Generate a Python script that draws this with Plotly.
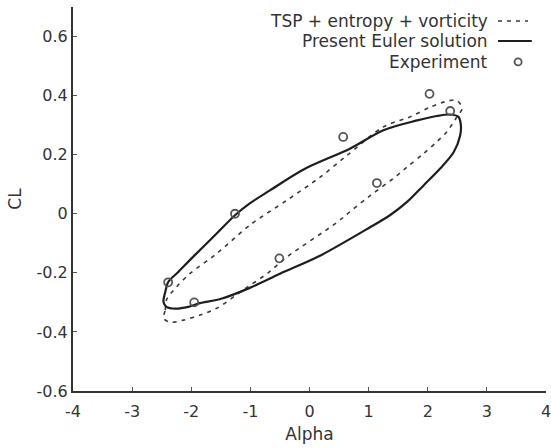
import plotly.graph_objects as go

# Present Euler solution (closed loop)
alpha_euler = [2.56, 2.52, 2.38, 2.15, 1.82, 1.25, 0.69, -0.10, -0.67, -1.01, -1.26, -1.60,
               -1.94, -2.22, -2.39, -2.44, -2.47, -2.42, -2.27, -2.05, -1.88, -1.48, -1.00,
               -0.50, 0.15, 1.03, 1.36, 1.65, 1.93, 2.21, 2.44, 2.55, 2.56]
cl_euler = [0.300, 0.328, 0.336, 0.331, 0.316, 0.283, 0.221, 0.150, 0.079, 0.035, -0.005, -0.073,
            -0.140, -0.197, -0.231, -0.265, -0.298, -0.315, -0.321, -0.315, -0.304, -0.287, -0.250,
            -0.203, -0.145, -0.045, -0.005, 0.040, 0.096, 0.153, 0.209, 0.267, 0.300]

# TSP + entropy + vorticity (closed loop)
alpha_tsp = [-2.47, -2.44, -2.42, -2.30, -2.02, -1.57, -1.00, -0.38, 0.18, 0.62, 1.25, 1.70,
             2.04, 2.27, 2.49, 2.58, 2.50, 2.32, 2.15, 1.93, 1.65, 1.42, 1.03, 0.69, 0.46,
             -0.38, -0.70, -1.10, -1.57, -1.85, -2.13, -2.36, -2.47]
cl_tsp = [-0.353, -0.326, -0.292, -0.259, -0.202, -0.135, -0.037, 0.046, 0.124, 0.195, 0.294, 0.328,
          0.361, 0.378, 0.384, 0.356, 0.330, 0.277, 0.243, 0.204, 0.158, 0.120, 0.062, 0.008, -0.030,
          -0.146, -0.200, -0.255, -0.320, -0.343, -0.360, -0.367, -0.353]

# Experiment
alpha_exp = [2.03, 2.38, 0.57, 1.14, -1.26, -0.51, -2.39, -1.95]
cl_exp = [0.406, 0.348, 0.260, 0.104, 0.000, -0.151, -0.232, -0.300]

x_ticks = [-4, -3, -2, -1, 0, 1, 2, 3, 4]
x_tick_text = ["-4", "-3", "-2", "-1", "0", "1", "2", "3", "4"]
y_ticks = [-0.6, -0.4, -0.2, 0, 0.2, 0.4, 0.6]
y_tick_text = ["-0.6", "-0.4", "-0.2", "0", "0.2", "0.4", "0.6"]

legend_labels = ["TSP + entropy + vorticity", "Present Euler solution", "Experiment"]

LINE = "#1e1e1e"
DASHC = "#3a3a3a"
MARK = "#555555"
TEXT = "#333333"
FONT = "DejaVu Sans"

fig = go.Figure()
fig.add_trace(go.Scatter(x=alpha_tsp, y=cl_tsp, mode="lines",
                         line=dict(color=DASHC, width=1.6, dash="4px,5px", shape="spline", smoothing=0.9),
                         showlegend=False))
fig.add_trace(go.Scatter(x=alpha_euler, y=cl_euler, mode="lines",
                         line=dict(color=LINE, width=2.2, shape="spline", smoothing=0.9),
                         showlegend=False))
fig.add_trace(go.Scatter(x=alpha_exp, y=cl_exp, mode="markers",
                         marker=dict(symbol="circle-open", size=8, color=MARK, line=dict(width=1.8)),
                         showlegend=False))

# Legend drawn manually (symbol on the right of the label, as in the original)
rows_y = [0.9635, 0.9115, 0.857]
text_x = 0.882
for lab, yy in zip(legend_labels, rows_y):
    fig.add_annotation(x=text_x, y=yy, xref="paper", yref="paper", text=lab, showarrow=False,
                       xanchor="right", yanchor="middle", font=dict(family=FONT, size=17, color=TEXT))
fig.add_shape(type="line", xref="paper", yref="paper", x0=0.8985, x1=0.962, y0=rows_y[0], y1=rows_y[0],
              line=dict(color=DASHC, width=1.6, dash="4px,5px"))
fig.add_shape(type="line", xref="paper", yref="paper", x0=0.8985, x1=0.970, y0=rows_y[1], y1=rows_y[1],
              line=dict(color=LINE, width=2.2))
fig.add_shape(type="circle", xref="paper", yref="paper", x0=0.941 - 0.0075, x1=0.941 + 0.0075,
              y0=rows_y[2] - 0.009, y1=rows_y[2] + 0.009, line=dict(color=MARK, width=1.8))

fig.update_layout(
    width=551, height=448,
    margin=dict(l=73, r=5, t=7, b=57, autoexpand=False),
    paper_bgcolor="white", plot_bgcolor="white",
    font=dict(family=FONT, size=16, color=TEXT),
    xaxis=dict(range=[-4, 4], tickvals=x_ticks, ticktext=x_tick_text, ticks="inside", ticklen=4,
               tickcolor="#555", ticklabelstandoff=5, ticklabeloverflow="allow", automargin=False,
               showline=True, linecolor="#333", linewidth=2, showgrid=False, zeroline=False,
               title=dict(text="Alpha", font=dict(size=17), standoff=8)),
    yaxis=dict(range=[-0.6, 0.7], tickvals=y_ticks, ticktext=y_tick_text, ticks="inside", ticklen=4,
               tickcolor="#555", showline=True, linecolor="#333", linewidth=2, showgrid=False,
               automargin=False, zeroline=False, title=dict(text="CL", font=dict(size=17), standoff=11)),
)

fig.write_html("out.html")
